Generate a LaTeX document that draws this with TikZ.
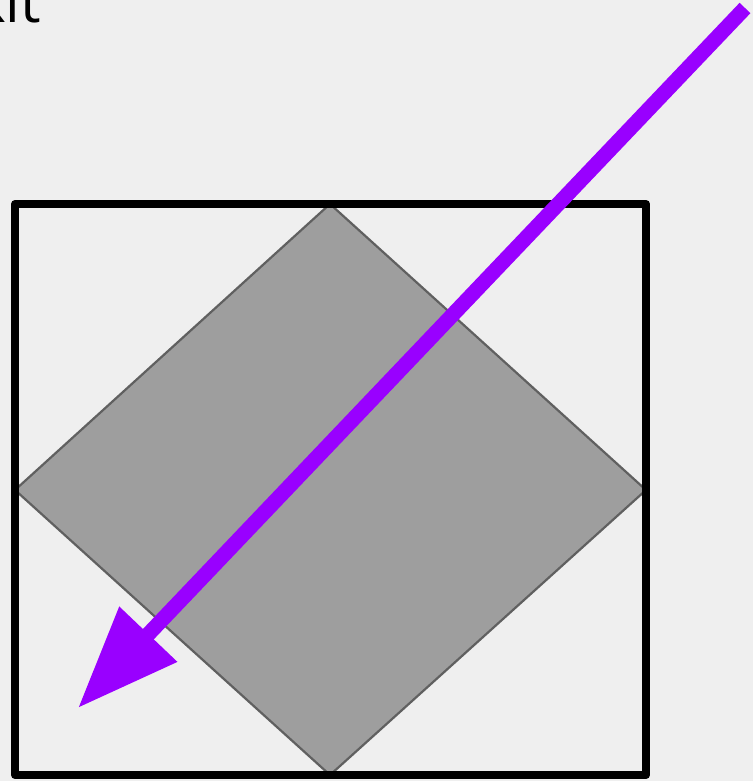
\documentclass[tikz,border=0pt]{standalone}
\usepackage{fontspec}
\setmainfont{Open Sans}
\usepackage{xcolor}
\usepackage{tikz}
\usetikzlibrary{arrows.meta}
\definecolor{bgcol}{RGB}{239,239,239}
\definecolor{boxcol}{RGB}{158,158,158}
\definecolor{boxedge}{RGB}{96,96,96}
\definecolor{arrowcol}{RGB}{153,0,255}

\begin{document}
\begin{tikzpicture}[x=0.02cm, y=-0.02cm]
  % canvas
  \def\Wd{753}
  \def\Ht{781}
  \fill[bgcol] (0,0) rectangle (\Wd,\Ht);
  \useasboundingbox (0,0) rectangle (\Wd,\Ht);
  \clip (0,0) rectangle (\Wd,\Ht);

  % clipped label
  \node[anchor=base west, inner sep=0pt, font=\fontsize{33}{38}\selectfont] (lbl) at (-25,22) {kit};

  % rotated square
  \fill[boxcol, draw=boxedge, line width=0.044cm, line join=round]
    (330,204) -- (646,490) -- (330,775) -- (15,490) -- cycle;

  % outer frame
  \draw[line width=0.16cm, line join=round] (15,204) rectangle (646,775);

  % arrow
  \coordinate (from) at (745,8);
  \coordinate (to) at (78,708);
  \draw[arrowcol, line width=0.3cm, -{Triangle[length=2.04cm, width=1.52cm]}] (from) -- (to);
\end{tikzpicture}
\end{document}
